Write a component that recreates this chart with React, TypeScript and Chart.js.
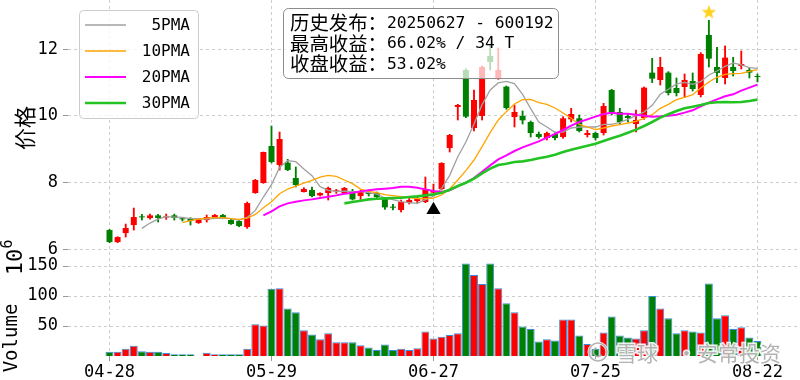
import React, { useEffect, useRef } from 'react';
import { Chart, registerables } from 'chart.js';

Chart.register(...registerables);

// ---------- data ----------
const dates = [
  '04-28','04-29','04-30','05-06','05-07','05-08','05-09','05-12','05-13','05-14',
  '05-15','05-16','05-19','05-20','05-21','05-22','05-23','05-26','05-27','05-28',
  '05-29','05-30','06-03','06-04','06-05','06-06','06-09','06-10','06-11','06-12',
  '06-13','06-16','06-17','06-18','06-19','06-20','06-23','06-24','06-25','06-26',
  '06-27','06-30','07-01','07-02','07-03','07-04','07-07','07-08','07-09','07-10',
  '07-11','07-14','07-15','07-16','07-17','07-18','07-21','07-22','07-23','07-24',
  '07-25','07-28','07-29','07-30','07-31','08-01','08-04','08-05','08-06','08-07',
  '08-08','08-11','08-12','08-13','08-14','08-15','08-18','08-19','08-20','08-21',
  '08-22',
];

const opens = [
  6.58,6.22,6.49,6.73,6.98,6.94,7.02,6.96,7.02,6.92,
  6.93,6.79,6.88,6.94,7.03,6.88,6.85,6.67,7.69,7.99,
  9.10,8.53,8.60,8.14,7.72,7.78,7.62,7.69,7.74,7.69,
  7.75,7.60,7.69,7.69,7.51,7.28,7.18,7.39,7.45,7.42,
  7.70,7.81,9.04,10.27,11.38,9.64,10.00,11.80,11.14,10.88,
  9.97,10.00,9.82,9.46,9.34,9.46,9.37,9.90,9.93,9.43,
  9.49,9.49,10.78,10.12,10.00,9.76,9.94,11.30,11.08,11.30,
  10.84,10.87,11.05,10.63,12.43,11.47,11.14,11.47,11.50,11.38,
  11.20,
];
const highs = [
  6.60,6.38,6.76,7.24,7.05,7.06,7.05,7.06,7.06,6.95,
  6.95,6.92,7.03,7.05,7.05,6.90,6.87,7.42,8.10,8.92,
  9.70,9.52,8.70,8.47,7.85,7.87,7.70,7.87,7.80,7.86,
  7.80,7.78,7.78,7.72,7.54,7.35,7.48,7.57,7.57,8.17,
  7.96,8.60,9.45,10.35,11.42,10.78,11.50,12.15,12.04,10.90,
  10.33,10.15,9.85,9.52,9.52,9.52,9.98,10.23,10.03,9.57,
  9.52,10.38,10.80,10.23,10.06,10.18,10.87,11.73,11.76,11.33,
  11.14,11.26,11.29,11.90,12.87,12.06,12.10,11.76,11.95,11.44,
  11.26,
];
const lows = [
  6.20,6.20,6.37,6.58,6.88,6.91,6.82,6.90,6.88,6.85,
  6.73,6.78,6.82,6.92,6.92,6.75,6.68,6.63,7.68,7.98,
  8.59,8.38,8.36,7.87,7.72,7.57,7.60,7.48,7.68,7.68,
  7.48,7.50,7.60,7.55,7.20,7.18,7.12,7.36,7.39,7.40,
  7.70,7.78,8.92,9.88,9.95,9.55,9.88,11.38,11.10,10.20,
  9.67,9.76,9.37,9.33,9.28,9.28,9.33,9.82,9.52,9.37,
  9.28,9.43,10.03,9.76,9.82,9.52,9.90,11.00,10.93,10.63,
  10.60,10.57,10.75,10.57,11.47,11.00,10.96,11.20,11.41,11.14,
  11.02,
];
const closes = [
  6.22,6.37,6.64,6.97,6.96,7.02,6.94,6.99,6.94,6.90,
  6.85,6.90,6.97,7.03,6.94,6.76,6.70,7.39,8.08,8.92,
  8.62,9.31,8.38,7.93,7.81,7.60,7.69,7.84,7.76,7.84,
  7.50,7.72,7.66,7.57,7.26,7.25,7.42,7.48,7.51,7.81,
  7.75,8.59,9.43,10.33,9.98,10.48,11.47,11.62,11.38,10.24,
  10.12,9.87,9.49,9.37,9.49,9.34,9.93,10.06,9.55,9.49,
  9.34,10.30,10.09,9.82,9.94,9.88,10.85,11.12,11.47,10.69,
  10.69,11.08,10.81,11.86,11.72,11.29,11.75,11.35,11.56,11.30,
  11.17,
];
// volume, units of 10^6
const volumes = [
  7,7,12,17,8,7,7,5,3,3,
  3,0,5.5,3,3,3,3,12,53,51,
  112,113,79,73,43,36,28,38,23,23,
  23,18,14,10,19,10,12,10,13,41,
  29,32,35,38,154,135,120,154,113,88,
  73,49,45,24,28,26,61,61,34,20,
  12,39,66,34,31,29,43,100,79,63,
  38,43,41,39,121,63,68,45,48,31,
  25,
];

// moving averages (first value sits at the given start index)
const ma5Start = 4;
const ma5 = [
  6.63,6.79,6.91,6.98,6.97,6.96,6.92,6.92,6.91,6.93,
  6.94,6.92,6.88,6.96,7.17,7.57,7.94,8.46,8.66,8.63,
  8.41,8.21,7.88,7.77,7.74,7.75,7.73,7.73,7.70,7.66,
  7.54,7.49,7.43,7.40,7.38,7.49,7.59,7.83,8.22,8.78,
  9.22,9.76,10.34,10.78,10.99,11.04,10.97,10.65,10.22,9.82,
  9.67,9.51,9.52,9.64,9.67,9.67,9.67,9.75,9.75,9.81,
  9.90,10.01,10.12,10.32,10.65,10.80,10.96,11.01,10.95,11.03,
  11.23,11.35,11.49,11.59,11.53,11.45,11.43,
];
const ma10Start = 9;
const ma10 = [
  6.80,6.86,6.91,6.94,6.95,6.95,6.92,6.90,6.94,7.05,
  7.25,7.43,7.67,7.81,7.90,7.99,8.07,8.17,8.22,8.19,
  8.08,7.97,7.81,7.74,7.70,7.64,7.61,7.58,7.55,7.52,
  7.52,7.54,7.63,7.81,8.08,8.36,8.68,9.08,9.50,9.88,
  10.13,10.36,10.49,10.50,10.40,10.35,10.24,10.09,9.93,9.75,
  9.67,9.59,9.64,9.70,9.74,9.79,9.84,9.93,10.04,10.23,
  10.35,10.49,10.56,10.64,10.84,11.02,11.16,11.25,11.27,11.28,
  11.34,11.39,
];
const ma20Start = 19;
const ma20 = [
  7.02,7.14,7.29,7.38,7.43,7.47,7.50,7.54,7.58,7.62,
  7.67,7.70,7.74,7.77,7.80,7.82,7.84,7.88,7.88,7.85,
  7.80,7.75,7.72,7.77,7.89,8.00,8.14,8.33,8.52,8.70,
  8.82,8.95,9.06,9.15,9.24,9.35,9.46,9.58,9.71,9.82,
  9.90,9.98,10.06,10.10,10.07,10.07,10.04,10.01,9.98,9.99,
  10.01,10.04,10.10,10.17,10.29,10.40,10.50,10.59,10.65,10.76,
  10.85,10.94,
];
const ma30Start = 29;
const ma30 = [
  7.38,7.42,7.46,7.50,7.52,7.53,7.54,7.55,7.57,7.59,
  7.62,7.65,7.70,7.79,7.90,8.00,8.12,8.28,8.42,8.53,
  8.57,8.62,8.64,8.68,8.73,8.78,8.84,8.92,8.99,9.05,
  9.11,9.17,9.25,9.33,9.41,9.50,9.59,9.70,9.82,9.95,
  10.05,10.15,10.23,10.28,10.33,10.39,10.41,10.42,10.41,10.42,
  10.45,10.49,
];

const tickIdx = [0, 20, 40, 60, 80];
const priceTicks = [6, 8, 10, 12];
const volTicks = [50, 100, 150];
const maLabels = ['5PMA', '10PMA', '20PMA', '30PMA'];
const releaseIdx = 40;
const peakIdx = 74;
const infoLines: [string, string][] = [
  ['历史发布：', '20250627 - 600192'],
  ['最高收益：', '66.02% / 34 T'],
  ['收盘收益：', '53.02%'],
];
const priceTitle = '价格';
const volTitle = 'Volume';
const volOffset = ['10', '6'];
const watermark = ['雪球', '·', '安常投资'];

// ---------- styles ----------
const MONO = '"DejaVu Sans Mono", monospace';
const CJK = '"Noto Sans CJK SC", sans-serif';
const RED = '#ff0000';
const GREEN = '#008000';
const GRID = '#cccccc';
const maStyles = [
  { color: '#a0a0a0', width: 1.3 },
  { color: '#ffa500', width: 1.3 },
  { color: '#ff00ff', width: 2 },
  { color: '#22c322', width: 2.6 },
];

function makeStar(): HTMLCanvasElement {
  const c = document.createElement('canvas');
  c.width = 18;
  c.height = 18;
  const g = c.getContext('2d')!;
  g.beginPath();
  for (let k = 0; k < 10; k++) {
    const r = k % 2 === 0 ? 7.6 : 3.1;
    const a = -Math.PI / 2 + (k * Math.PI) / 5;
    const px = 9 + r * Math.cos(a);
    const py = 9.7 + r * Math.sin(a);
    if (k === 0) g.moveTo(px, py);
    else g.lineTo(px, py);
  }
  g.closePath();
  g.fillStyle = '#ffd21f';
  g.fill();
  return c;
}

function rotText(ctx: CanvasRenderingContext2D, text: string, x: number, y: number, font: string) {
  ctx.save();
  ctx.translate(x, y);
  ctx.rotate(-Math.PI / 2);
  ctx.font = font;
  ctx.textAlign = 'center';
  ctx.textBaseline = 'middle';
  ctx.fillStyle = '#000';
  ctx.fillText(text, 0, 0);
  ctx.restore();
}

const decor = {
  id: 'decor',
  afterDatasetsDraw(chart: any) {
    const ctx: CanvasRenderingContext2D = chart.ctx;
    ctx.save();
    // legend
    ctx.beginPath();
    ctx.roundRect(79.5, 10.5, 119, 108, 4);
    ctx.fillStyle = 'rgba(255,255,255,0.8)';
    ctx.fill();
    ctx.strokeStyle = '#cccccc';
    ctx.lineWidth = 1;
    ctx.stroke();
    maLabels.forEach((lab, k) => {
      const y = 25 + k * 26;
      ctx.beginPath();
      ctx.moveTo(85, y);
      ctx.lineTo(126, y);
      ctx.strokeStyle = maStyles[k].color;
      ctx.lineWidth = maStyles[k].width;
      ctx.stroke();
      ctx.font = `16px ${MONO}`;
      ctx.fillStyle = '#000';
      ctx.textAlign = 'right';
      ctx.textBaseline = 'middle';
      ctx.fillText(lab, 190, y + 1);
    });
    // info box
    ctx.beginPath();
    ctx.roundRect(283.5, 8.5, 275, 70, 5);
    ctx.fillStyle = 'rgba(255,255,255,0.72)';
    ctx.fill();
    ctx.strokeStyle = '#8c8c8c';
    ctx.lineWidth = 1;
    ctx.stroke();
    ctx.textAlign = 'left';
    ctx.textBaseline = 'middle';
    ctx.fillStyle = '#000';
    infoLines.forEach(([a, b], k) => {
      const y = 22.5 + k * 20.7;
      ctx.font = `19.4px ${CJK}`;
      ctx.fillText(a, 290, y);
      const w = ctx.measureText(a).width;
      ctx.font = `16.3px ${MONO}`;
      ctx.fillText(b, 290 + w, y + 1);
    });
    // watermark
    ctx.lineWidth = 3;
    ctx.strokeStyle = 'rgba(255,255,255,0.9)';
    ctx.beginPath();
    ctx.arc(598, 352, 9, 0, Math.PI * 2);
    ctx.stroke();
    ctx.lineWidth = 1.6;
    ctx.strokeStyle = 'rgba(175,175,175,0.95)';
    ctx.stroke();
    ctx.beginPath();
    ctx.arc(598, 352, 4.5, Math.PI * 0.2, Math.PI * 1.4);
    ctx.stroke();
    ctx.font = `21px ${CJK}`;
    ctx.textBaseline = 'middle';
    const xs = [616, 676, 697];
    watermark.forEach((t, k) => {
      ctx.lineWidth = 3;
      ctx.strokeStyle = 'rgba(255,255,255,0.9)';
      ctx.strokeText(t, xs[k], 353);
      ctx.fillStyle = 'rgba(175,175,175,0.95)';
      ctx.fillText(t, xs[k], 353);
    });
    ctx.restore();
  },
  afterDraw(chart: any) {
    const ctx: CanvasRenderingContext2D = chart.ctx;
    rotText(ctx, priceTitle, 25, 128, `22px ${CJK}`);
    rotText(ctx, volTitle, 12, 338, `19px ${MONO}`);
    rotText(ctx, volOffset[0], 16, 262, `22px ${MONO}`);
    rotText(ctx, volOffset[1], 8, 244, `15px ${MONO}`);
  },
};

export default function App() {
  const ref = useRef<HTMLCanvasElement>(null);
  useEffect(() => {
    const candleColor = closes.map((c, i) => (c >= opens[i] ? RED : GREEN));
    const star = makeStar();
    const lineDs = (vals: number[], start: number, k: number, order: number) => ({
      type: 'line',
      data: vals.map((v, j) => ({ x: j + start, y: v })),
      borderColor: maStyles[k].color,
      borderWidth: maStyles[k].width,
      pointRadius: 0,
      tension: 0,
      fill: false,
      yAxisID: 'y',
      order,
    });
    const tickFont = { family: MONO, size: 17 };
    const yAfterFit = (s: any) => {
      s.width = 68;
      s.paddingTop = 0;
      s.paddingBottom = 0;
      s.paddingLeft = 0;
      s.paddingRight = 0;
    };
    const chart = new Chart(ref.current!, {
      type: 'line',
      data: {
        datasets: [
          lineDs(ma30, ma30Start, 3, 1),
          lineDs(ma20, ma20Start, 2, 2),
          lineDs(ma10, ma10Start, 1, 3),
          lineDs(ma5, ma5Start, 0, 4),
          {
            type: 'scatter',
            data: [{ x: peakIdx, y: highs[peakIdx] * 1.02 }],
            pointStyle: star,
            pointRadius: 8,
            yAxisID: 'y',
            order: 0,
          },
          {
            type: 'scatter',
            data: [{ x: releaseIdx, y: lows[releaseIdx] * 0.933 }],
            pointStyle: 'triangle',
            pointRadius: 8.2,
            backgroundColor: '#000',
            borderColor: '#000',
            borderWidth: 0,
            yAxisID: 'y',
            order: 0,
          },
          {
            type: 'bar',
            data: opens.map((o, i) => ({ x: i, y: [o, closes[i]] })),
            backgroundColor: candleColor,
            borderWidth: 0,
            barPercentage: 0.74,
            categoryPercentage: 1,
            grouped: false,
            minBarLength: 1,
            yAxisID: 'y',
            order: 10,
          },
          {
            type: 'bar',
            data: lows.map((l, i) => ({ x: i, y: [l, highs[i]] })),
            backgroundColor: candleColor,
            borderWidth: 0,
            barThickness: 1.2,
            grouped: false,
            yAxisID: 'y',
            order: 11,
          },
          {
            type: 'bar',
            data: volumes.map((v, i) => ({ x: i, y: v })),
            backgroundColor: candleColor,
            borderColor: '#3b8fd8',
            borderWidth: 1,
            barPercentage: 0.98,
            categoryPercentage: 1,
            grouped: false,
            yAxisID: 'yv',
            order: 12,
          },
        ] as any,
      },
      options: {
        responsive: false,
        animation: false,
        devicePixelRatio: 1,
        events: [],
        layout: { padding: 0, autoPadding: false },
        plugins: { legend: { display: false }, tooltip: { enabled: false } },
        scales: {
          x: {
            type: 'linear',
            position: 'bottom',
            min: -5.123,
            max: 85.25,
            offset: false,
            afterBuildTicks: (s: any) => {
              s.ticks = tickIdx.map((v) => ({ value: v }));
            },
            afterFit: (s: any) => {
              s.height = 24;
              s.paddingLeft = 0;
              s.paddingRight = 0;
              s.paddingTop = 0;
              s.paddingBottom = 0;
            },
            ticks: {
              autoSkip: false,
              maxRotation: 0,
              minRotation: 0,
              padding: 1,
              color: '#000',
              font: tickFont,
              callback: (v: any) => dates[v as number] ?? '',
            },
            grid: { offset: false, color: GRID, lineWidth: 1, tickLength: 5, tickColor: '#999' },
            border: { display: false, dash: [3, 3] },
          },
          y: {
            type: 'linear',
            position: 'left',
            stack: 'main',
            stackWeight: 257,
            weight: 2,
            min: 5.772,
            max: 13.478,
            afterBuildTicks: (s: any) => {
              s.ticks = priceTicks.map((v) => ({ value: v }));
            },
            afterFit: yAfterFit,
            ticks: { color: '#000', font: tickFont, padding: 5, callback: (v: any) => String(v) },
            grid: { color: GRID, lineWidth: 1, tickLength: 5, tickColor: '#999' },
            border: { display: false, dash: [3, 3] },
          },
          yv: {
            type: 'linear',
            position: 'left',
            stack: 'main',
            stackWeight: 99,
            weight: 1,
            min: 0,
            max: 165,
            afterBuildTicks: (s: any) => {
              s.ticks = volTicks.map((v) => ({ value: v }));
            },
            afterFit: yAfterFit,
            ticks: { color: '#000', font: tickFont, padding: 5, callback: (v: any) => String(v) },
            grid: { color: GRID, lineWidth: 1, tickLength: 5, tickColor: '#999' },
            border: { display: false, dash: [3, 3] },
          },
        },
      } as any,
      plugins: [decor as any],
    });
    return () => chart.destroy();
  }, []);
  return (
    <div style={{ position: 'fixed', left: 0, top: 0, width: 800, height: 380, background: '#fff' }}>
      <canvas ref={ref} width={800} height={380} style={{ width: 800, height: 380, display: 'block' }} />
    </div>
  );
}
